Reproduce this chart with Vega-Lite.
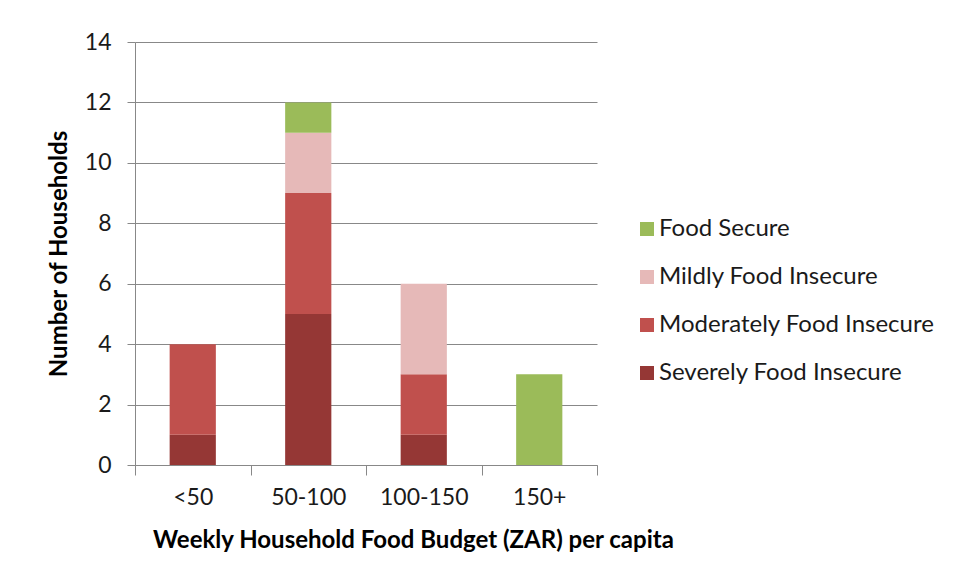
{
  "$schema": "https://vega.github.io/schema/vega-lite/v6.json",
  "width": 462,
  "height": 423,
  "autosize": "none",
  "padding": {"left": 135, "top": 42, "right": 362, "bottom": 118},
  "background": "white",
  "config": {
    "font": "Lato",
    "view": {"stroke": null},
    "axis": {"labelFont": "Lato", "titleFont": "Lato", "labelColor": "#1a1a1a", "titleColor": "#000000"},
    "legend": {"labelFont": "Lato"}
  },
  "data": {
    "values": [
      {"budget": "<50", "status": "Severely Food Insecure", "rank": 1, "count": 1},
      {"budget": "<50", "status": "Moderately Food Insecure", "rank": 2, "count": 3},
      {"budget": "50-100", "status": "Severely Food Insecure", "rank": 1, "count": 5},
      {"budget": "50-100", "status": "Moderately Food Insecure", "rank": 2, "count": 4},
      {"budget": "50-100", "status": "Mildly Food Insecure", "rank": 3, "count": 2},
      {"budget": "50-100", "status": "Food Secure", "rank": 4, "count": 1},
      {"budget": "100-150", "status": "Severely Food Insecure", "rank": 1, "count": 1},
      {"budget": "100-150", "status": "Moderately Food Insecure", "rank": 2, "count": 2},
      {"budget": "100-150", "status": "Mildly Food Insecure", "rank": 3, "count": 3},
      {"budget": "150+", "status": "Food Secure", "rank": 4, "count": 3}
    ]
  },
  "mark": {"type": "bar", "width": {"band": 0.4}},
  "encoding": {
    "x": {
      "field": "budget",
      "type": "nominal",
      "sort": ["<50", "50-100", "100-150", "150+"],
      "scale": {"paddingInner": 0, "paddingOuter": 0},
      "axis": {
        "title": "Weekly Household Food Budget (ZAR) per capita",
        "labelAngle": 0,
        "labelFontSize": 23,
        "labelPadding": 11,
        "tickBand": "extent",
        "tickSize": 10,
        "tickColor": "#888888",
        "domainColor": "#888888",
        "titleFontSize": 24,
        "titleFontWeight": "bold",
        "titlePadding": 19,
        "titleX": 278
      }
    },
    "y": {
      "field": "count",
      "type": "quantitative",
      "aggregate": "sum",
      "scale": {"domain": [0, 14]},
      "axis": {
        "title": "Number of Households",
        "values": [0, 2, 4, 6, 8, 10, 12, 14],
        "labelFontSize": 23,
        "labelPadding": 16,
        "tickSize": 8,
        "tickColor": "#888888",
        "domainColor": "#888888",
        "gridColor": "#888888",
        "titleFontSize": 24,
        "titleFontWeight": "bold",
        "titlePadding": 13
      }
    },
    "color": {
      "field": "status",
      "type": "nominal",
      "scale": {
        "domain": ["Food Secure", "Mildly Food Insecure", "Moderately Food Insecure", "Severely Food Insecure"],
        "range": ["#9BBB59", "#E6B9B8", "#C0504D", "#953735"]
      },
      "legend": {
        "title": null,
        "orient": "none",
        "legendX": 500,
        "legendY": 175,
        "symbolType": "square",
        "symbolSize": 196,
        "symbolStrokeWidth": 0,
        "labelFontSize": 24,
        "labelColor": "#1a1a1a",
        "labelOffset": 0,
        "labelLimit": 400,
        "rowPadding": 24
      }
    },
    "order": {"field": "rank", "type": "quantitative", "sort": "ascending"}
  }
}
